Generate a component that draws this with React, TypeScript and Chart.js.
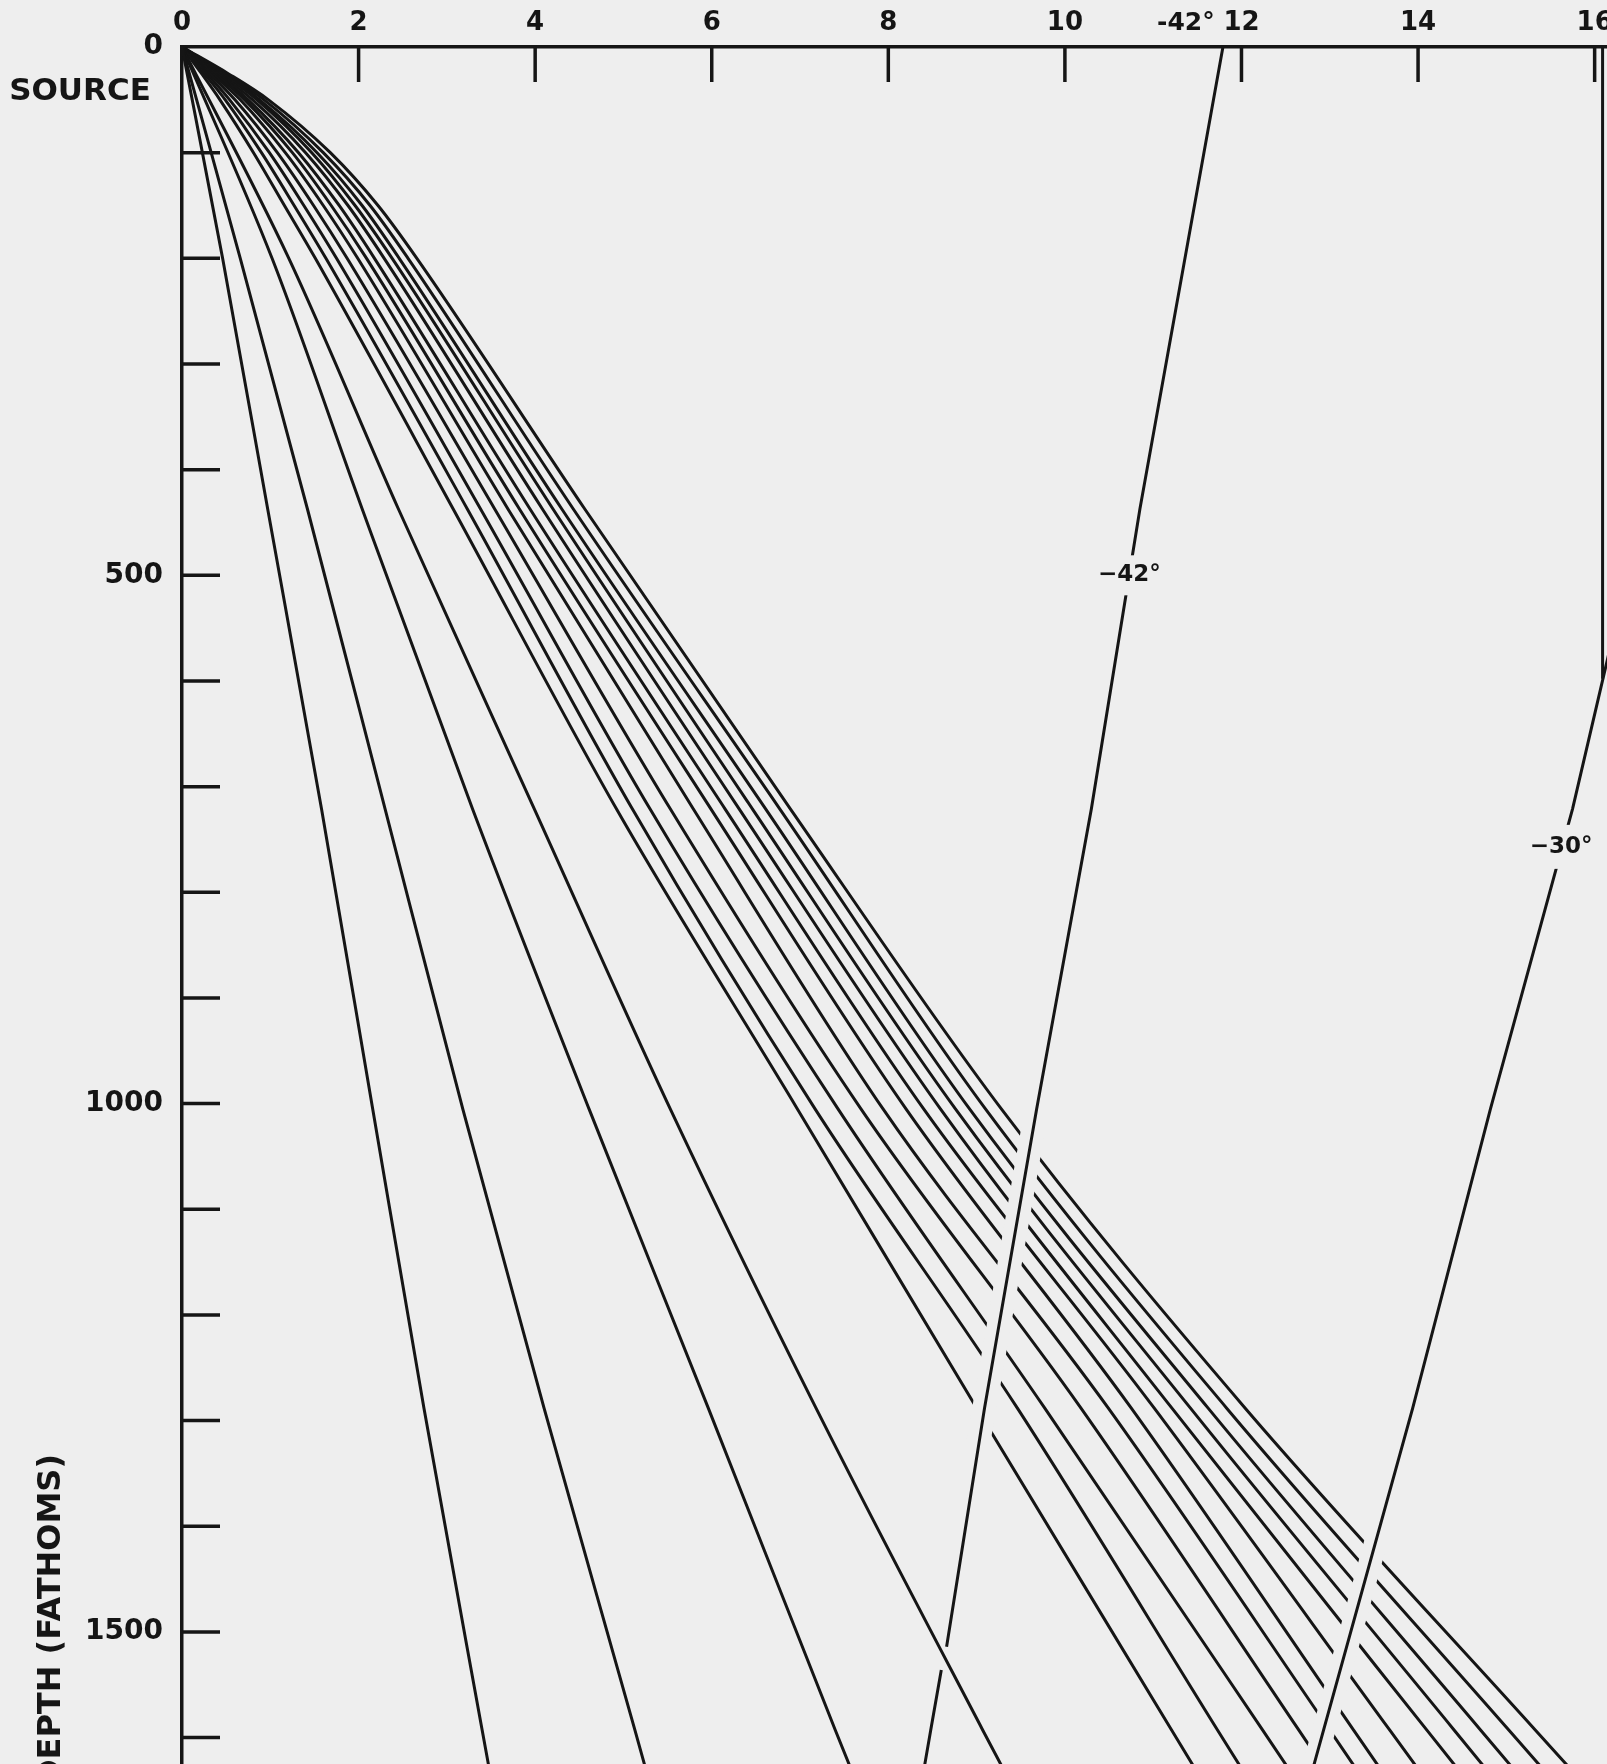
import React, { useEffect, useRef } from "react";
import { Chart, registerables } from "chart.js";

Chart.register(...registerables);

const W = 1607;
const H = 1764;
const PAPER = "#eeeeee";
const INK = "#151515";

// Axis ticks
const rangeTicks = [0, 2, 4, 6, 8, 10, 12, 14, 16];
const depthTicks = [0, 100, 200, 300, 400, 500, 600, 700, 800, 900, 1000, 1100, 1200, 1300, 1400, 1500, 1600];
const depthLabels = [0, 500, 1000, 1500];

// Steep rays: depth (fathoms) and range values
const steepDepths = [0, 200, 437, 721, 1005, 1288, 1593, 1680];
const ray1 = [0, 0.46, 0.97, 1.58, 2.16, 2.74, 3.4, 3.59];
const ray2 = [0, 0.66, 1.42, 2.3, 3.18, 4.1, 5.13, 5.42];
const ray3 = [0, 1.02, 2.04, 3.29, 4.61, 5.96, 7.4, 7.82];
const ray4 = [0, 1.21, 2.45, 3.99, 5.53, 7.18, 9.07, 9.62];

// Curved bundle rays
const bundleDepths = [0, 25, 50, 100, 150, 200, 437, 721, 1005, 1288, 1593, 1680];
const ray5 = [0, 0.22, 0.43, 0.81, 1.16, 1.51, 3.07, 4.92, 6.97, 9.0, 11.21, 11.84];
const ray6 = [0, 0.25, 0.49, 0.9, 1.27, 1.63, 3.23, 5.1, 7.17, 9.46, 11.73, 12.38];
const ray7 = [0, 0.28, 0.54, 0.99, 1.38, 1.75, 3.38, 5.3, 7.43, 9.77, 12.24, 12.94];
const ray8 = [0, 0.31, 0.6, 1.08, 1.49, 1.87, 3.54, 5.53, 7.69, 10.18, 12.65, 13.35];
const ray9 = [0, 0.34, 0.66, 1.17, 1.6, 1.99, 3.69, 5.79, 7.94, 10.49, 13.0, 13.71];
const ray10 = [0, 0.37, 0.71, 1.25, 1.69, 2.09, 3.82, 5.99, 8.2, 10.75, 13.27, 13.99];
const ray11 = [0, 0.4, 0.75, 1.32, 1.78, 2.18, 3.94, 6.15, 8.4, 11.01, 13.68, 14.44];
const ray12 = [0, 0.42, 0.8, 1.4, 1.88, 2.29, 4.08, 6.31, 8.59, 11.21, 14.1, 14.93];
const ray13 = [0, 0.45, 0.85, 1.47, 1.96, 2.38, 4.2, 6.46, 8.76, 11.42, 14.41, 15.26];
const ray14 = [0, 0.47, 0.88, 1.53, 2.04, 2.46, 4.3, 6.61, 8.92, 11.62, 14.71, 15.59];
const ray15 = [0, 0.49, 0.93, 1.6, 2.13, 2.56, 4.43, 6.77, 9.1, 11.83, 15.03, 15.94];
const ray16 = [0, 0.52, 0.98, 1.68, 2.22, 2.66, 4.56, 6.89, 9.28, 12.04, 15.33, 16.27];

// Bottom-reflected rays (upgoing)
const up42Depths = [0, 437, 721, 1005, 1288, 1514];
const up42Range = [11.79, 10.85, 10.3, 9.68, 9.09, 8.66];
const up42LowDepths = [1536, 1593, 1680];
const up42LowRange = [8.6, 8.48, 8.3];
const up30Depths = [560, 721, 1005, 1288, 1623, 1700];
const up30Range = [16.2, 15.75, 14.82, 13.94, 12.83, 12.58];

// Crossing breaks (where the downgoing rays are interrupted)
const gap42Depths = [1015, 1320];
const gap42Range = [9.66, 9.02];
const gap30Depths = [1400, 1700];
const gap30Range = [13.57, 12.58];

// Right-hand frame edge
const frameDepths = [0, 598];
const frameRange = [16.09, 16.09];

const bundle = [ray5, ray6, ray7, ray8, ray9, ray10, ray11, ray12, ray13, ray14, ray15, ray16];
const steep = [ray1, ray2, ray3, ray4];

function series(xs: number[], ds: number[], extra: any = {}) {
  return {
    data: xs.map((x, i) => ({ x, y: ds[i] })),
    showLine: true,
    borderColor: INK,
    borderWidth: 3,
    pointRadius: 0,
    pointHoverRadius: 0,
    fill: false,
    order: 10,
    ...extra,
  };
}

function boxedText(ctx: CanvasRenderingContext2D, text: string, x: number, y: number, font: string, boxH: number) {
  ctx.font = font;
  const w = ctx.measureText(text).width;
  ctx.fillStyle = PAPER;
  ctx.fillRect(x - w / 2 - 6, y - boxH / 2, w + 12, boxH);
  ctx.fillStyle = INK;
  ctx.textAlign = "center";
  ctx.textBaseline = "middle";
  ctx.fillText(text, x, y);
}

const inkPlugin = {
  id: "inkMarks",
  afterDatasetsDraw(chart: any) {
    const { ctx, chartArea, scales } = chart;
    const xs = scales.x;
    const ys = scales.y;
    ctx.save();
    ctx.strokeStyle = INK;
    ctx.lineWidth = 3.5;
    ctx.lineCap = "butt";
    for (const v of rangeTicks) {
      if (v === 0) continue;
      const px = xs.getPixelForValue(v);
      ctx.beginPath();
      ctx.moveTo(px, chartArea.top);
      ctx.lineTo(px, chartArea.top + 35);
      ctx.stroke();
    }
    for (const v of depthTicks) {
      if (v === 0) continue;
      const py = ys.getPixelForValue(v);
      ctx.beginPath();
      ctx.moveTo(chartArea.left, py);
      ctx.lineTo(chartArea.left + 38, py);
      ctx.stroke();
    }
    const labelFont = "bold 23px 'DejaVu Sans'";
    boxedText(ctx, "\u221242\u00b0", xs.getPixelForValue(10.73), ys.getPixelForValue(500), labelFont, 40);
    boxedText(ctx, "\u221230\u00b0", xs.getPixelForValue(15.62), ys.getPixelForValue(757), labelFont, 44);

    ctx.fillStyle = INK;
    ctx.textAlign = "center";
    ctx.textBaseline = "middle";
    ctx.font = "bold 25px 'DejaVu Sans'";
    ctx.fillText("-42\u00b0", xs.getPixelForValue(11.37), chartArea.top - 24);

    ctx.font = "bold 31px 'DejaVu Sans'";
    ctx.fillText("SOURCE", 80, ys.getPixelForValue(43));

    ctx.save();
    ctx.translate(52, 1620);
    ctx.rotate(-Math.PI / 2);
    ctx.font = "bold 32px 'DejaVu Sans'";
    ctx.fillText("DEPTH (FATHOMS)", 0, 0);
    ctx.restore();
    ctx.restore();
  },
};

export default function App() {
  const ref = useRef<HTMLCanvasElement | null>(null);
  useEffect(() => {
    document.body.style.margin = "0";
    document.body.style.background = PAPER;
    const canvas = ref.current;
    if (!canvas) return;
    const datasets: any[] = [];
    steep.forEach((r, i) =>
      datasets.push(series(r, steepDepths, { label: `steep${i + 1}`, cubicInterpolationMode: "monotone" }))
    );
    bundle.forEach((r, i) =>
      datasets.push(series(r, bundleDepths, { label: `ray${i + 5}`, cubicInterpolationMode: "monotone" }))
    );
    datasets.push(series(gap42Range, gap42Depths, { label: "gap42", borderColor: PAPER, borderWidth: 24, order: 5 }));
    datasets.push(series(gap30Range, gap30Depths, { label: "gap30", borderColor: PAPER, borderWidth: 23, order: 5 }));
    datasets.push(series(up42Range, up42Depths, { label: "-42 up", order: 1 }));
    datasets.push(series(up42LowRange, up42LowDepths, { label: "-42 up low", order: 1 }));
    datasets.push(series(up30Range, up30Depths, { label: "-30 up", order: 1 }));
    datasets.push(series(frameRange, frameDepths, { label: "frame", order: 1, borderWidth: 3 }));

    const chart = new Chart(canvas, {
      type: "scatter",
      data: { datasets },
      options: {
        responsive: false,
        animation: false,
        devicePixelRatio: 1,
        layout: { padding: 0 },
        plugins: { legend: { display: false }, tooltip: { enabled: false } },
        events: [],
        scales: {
          x: {
            type: "linear",
            position: "top",
            min: 0,
            max: 16.14,
            afterFit: (s: any) => {
              s.height = 47;
              s.paddingLeft = 0;
              s.paddingRight = 0;
            },
            grid: { display: false, drawTicks: false },
            border: { display: true, color: INK, width: 3.5 },
            ticks: {
              stepSize: 2,
              includeBounds: false,
              autoSkip: false,
              maxRotation: 0,
              padding: 8,
              color: INK,
              font: { family: "'DejaVu Sans'", weight: "bold", size: 26 },
              callback: (v: any) => String(v),
            },
          },
          y: {
            type: "linear",
            position: "left",
            reverse: true,
            min: 0,
            max: 1625,
            afterFit: (s: any) => {
              s.width = 182;
              s.paddingTop = 0;
              s.paddingBottom = 0;
            },
            grid: { display: false, drawTicks: false },
            border: { display: true, color: INK, width: 3.5 },
            ticks: {
              stepSize: 100,
              autoSkip: false,
              padding: 19,
              color: INK,
              font: { family: "'DejaVu Sans'", weight: "bold", size: 28 },
              callback: (v: any) => (depthLabels.includes(Number(v)) ? String(v) : ""),
            },
          },
        },
      } as any,
      plugins: [inkPlugin],
    });
    return () => chart.destroy();
  }, []);
  return (
    <div style={{ width: W, height: H, background: PAPER, overflow: "hidden" }}>
      <canvas ref={ref} width={W} height={H} style={{ display: "block", width: W, height: H }} />
    </div>
  );
}
